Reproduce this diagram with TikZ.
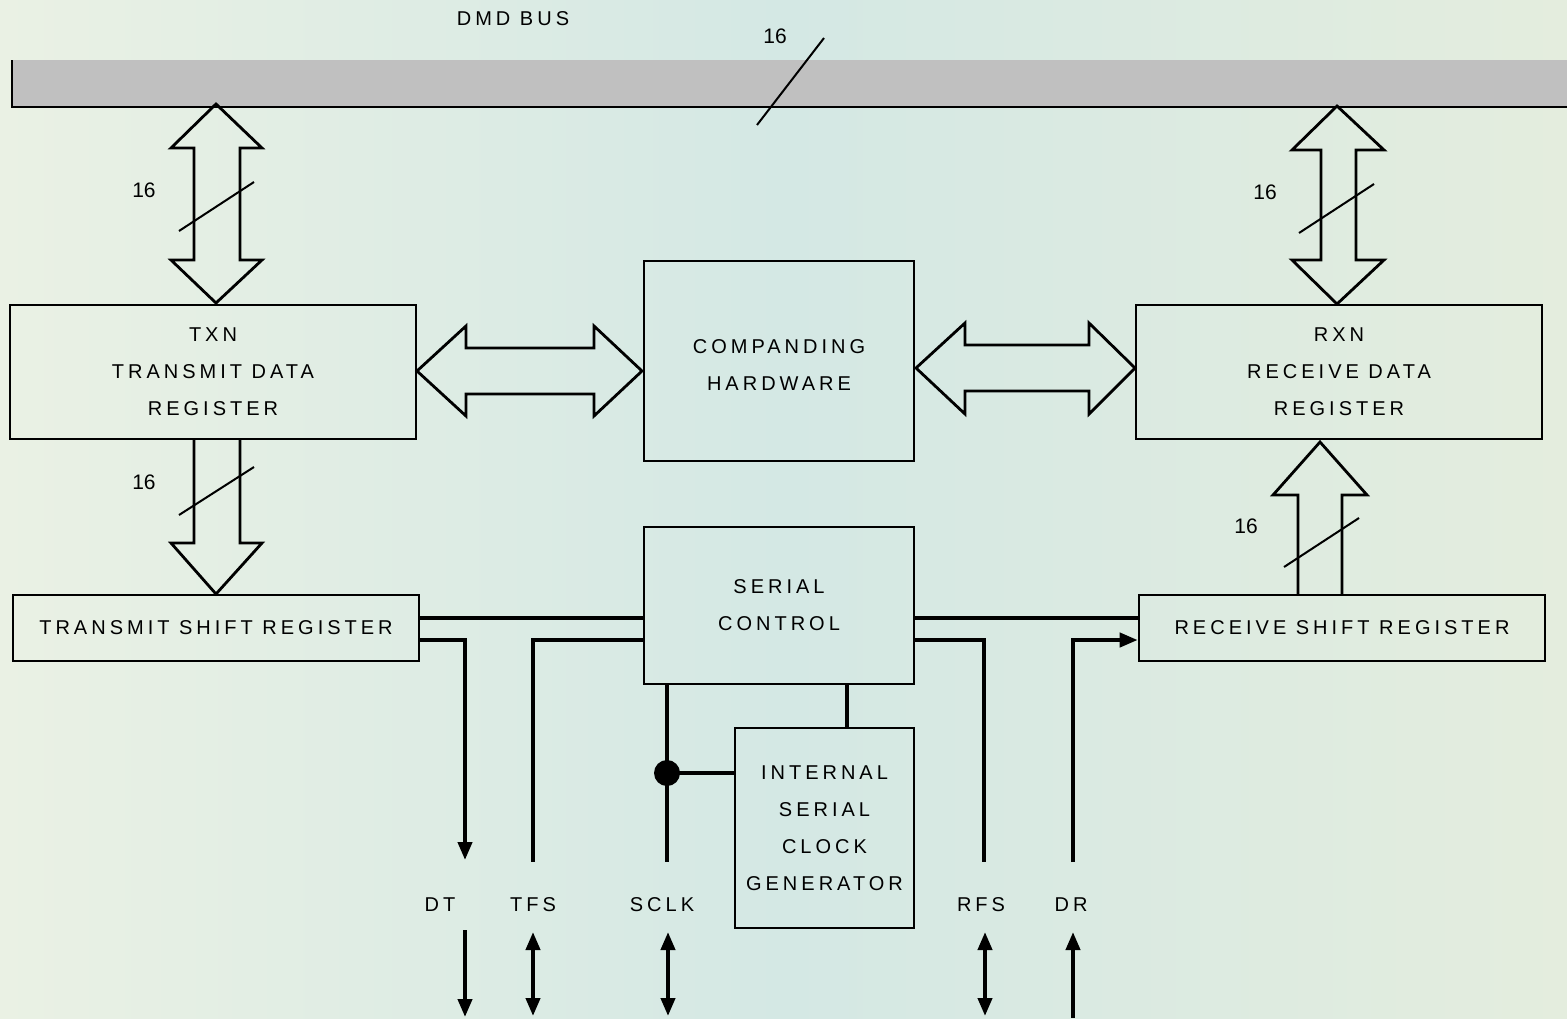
\documentclass[tikz,border=0pt]{standalone}
\usepackage{fontspec}
\setmainfont{Liberation Sans}
\newfontfamily\lblfont{Liberation Sans}[LetterSpace=20]
\usetikzlibrary{arrows.meta, calc}

\definecolor{busgray}{RGB}{192,192,192}
\definecolor{bgleft}{RGB}{234,241,228}
\definecolor{bgmid}{RGB}{212,232,228}
\definecolor{bgright}{RGB}{228,237,222}
\newcommand{\lbltext}{\lblfont\fontsize{10}{18.5}\selectfont}

\tikzset{
  blk/.style={draw, line width=1.3pt, align=center, font=\lbltext, inner sep=0pt},
  fat/.style={draw, line width=1.4pt, line join=miter},
  sig/.style={line width=2pt},
  thinsig/.style={line width=1.6pt},
  slash/.style={line width=1pt},
  tag/.style={font=\lbltext},
  num/.style={font=\fontsize{10.5}{12}\selectfont},
}

\begin{document}
\begin{tikzpicture}[x=0.5pt, y=-0.5pt, >={Triangle[length=9pt, width=7pt]}]
  \useasboundingbox (0,0) rectangle (1567,1018);
  % background
  \shade[left color=bgleft, right color=bgright, middle color=bgmid] (0,0) rectangle (1567,1018);

  % bus
  \node[fill=busgray, inner sep=0pt, minimum width=777.5pt, minimum height=23pt, anchor=north west] (bus) at (12,60) {};
  \draw[line width=0.8pt] (bus.north west) -- (bus.south west) -- (bus.south east);
  \node[tag] (busname) at (513,19) {DMD BUS};
  \node[num] (buswidth) at (775,36) {16};
  \draw[slash] (757,125) -- (824,38);

  % blocks
  \node[blk, minimum width=203pt, minimum height=67pt] (txn) at (213,372) {TXN\\TRANSMIT DATA\\REGISTER};
  \node[blk, minimum width=135pt, minimum height=100pt] (comp) at (779,361) {\\[-8pt]COMPANDING\\HARDWARE};
  \node[blk, minimum width=203pt, minimum height=67pt] (rxn) at (1339,372) {RXN\\RECEIVE DATA\\REGISTER};
  \node[blk, minimum width=203pt, minimum height=33pt] (tsr) at (216,628) {TRANSMIT SHIFT REGISTER};
  \node[blk, minimum width=135pt, minimum height=78.5pt] (sc) at (779,605.5) {SERIAL\\CONTROL};
  \node[blk, minimum width=203pt, minimum height=33pt] (rsr) at (1342,628) {RECEIVE SHIFT REGISTER};
  \node[blk, minimum width=89.5pt, minimum height=100pt] (iscg) at (824.5,828) {INTERNAL\\SERIAL\\CLOCK\\GENERATOR};

  % wide data paths
  \draw[fat] (216,104) -- (262,148) -- (240,148) -- (240,260) -- (262,260) -- (216,303)
    -- (171,260) -- (194,260) -- (194,148) -- (171,148) -- cycle;
  \draw[fat] (1337,106) -- (1384,150) -- (1356,150) -- (1356,260) -- (1384,260) -- (1337,304)
    -- (1292,260) -- (1321,260) -- (1321,150) -- (1292,150) -- cycle;
  \draw[fat] (417,371) -- (466,326) -- (466,348) -- (594,348) -- (594,326) -- (642,371)
    -- (594,416) -- (594,394) -- (466,394) -- (466,416) -- cycle;
  \draw[fat] (916,368) -- (965,323) -- (965,345) -- (1089,345) -- (1089,323) -- (1135,368)
    -- (1089,414) -- (1089,391) -- (965,391) -- (965,414) -- cycle;
  \draw[fat] (194,439) -- (194,543) -- (171,543) -- (216,594) -- (262,543) -- (240,543) -- (240,439);
  \draw[fat] (1298,595) -- (1298,495) -- (1273,495) -- (1320,442) -- (1367,495) -- (1342,495) -- (1342,595);

  % bus widths
  \node[num] (w1) at (144,190) {16};
  \draw[slash] (179,231) -- (254,182);
  \node[num] (w2) at (1265,192) {16};
  \draw[slash] (1299,233) -- (1374,184);
  \node[num] (w3) at (144,482) {16};
  \draw[slash] (179,515) -- (254,467);
  \node[num] (w4) at (1246,526) {16};
  \draw[slash] (1284,567) -- (1359,518);

  % pin ends
  \coordinate (dt) at (465,860);
  \coordinate (tfs) at (533,862);
  \coordinate (sclk) at (667,862);
  \coordinate (rfs) at (984,862);
  \coordinate (dr) at (1073,862);
  \coordinate (jn) at (667,773);

  % serial lines
  \draw[thinsig] (tsr.east |- 0,618) -- (sc.west |- 0,618);
  \draw[sig, ->] (tsr.east |- 0,640) -| (dt);
  \draw[sig] (sc.west |- 0,640) -| (tfs);
  \draw[sig] (sc.south -| sclk) -- (sclk);
  \fill (jn) circle[radius=6.5pt];
  \draw[sig] (jn) -- (iscg.west |- jn);
  \draw[thinsig] (sc.south -| 847,0) -- (iscg.north -| 847,0);
  \draw[thinsig] (sc.east |- 0,618) -- (rsr.west |- 0,618);
  \draw[sig] (sc.east |- 0,640) -| (rfs);
  \draw[sig, ->] (dr) |- (rsr.west |- 0,640);

  % pins
  \node[tag] (dtl) at (440,905) {DT};
  \node[tag] (tfsl) at (533,905) {TFS};
  \node[tag] (sclkl) at (662,905) {SCLK};
  \node[tag] (rfsl) at (981,905) {RFS};
  \node[tag] (drl) at (1071,905) {DR};
  \draw[sig, ->] (465,930) -- (465,1017);
  \draw[sig, <->] (533,932) -- (533,1016);
  \draw[sig, <->] (668,932) -- (668,1016);
  \draw[sig, <->] (985,932) -- (985,1016);
  \draw[sig, <-] (1073,932) -- (1073,1018);
\end{tikzpicture}
\end{document}
